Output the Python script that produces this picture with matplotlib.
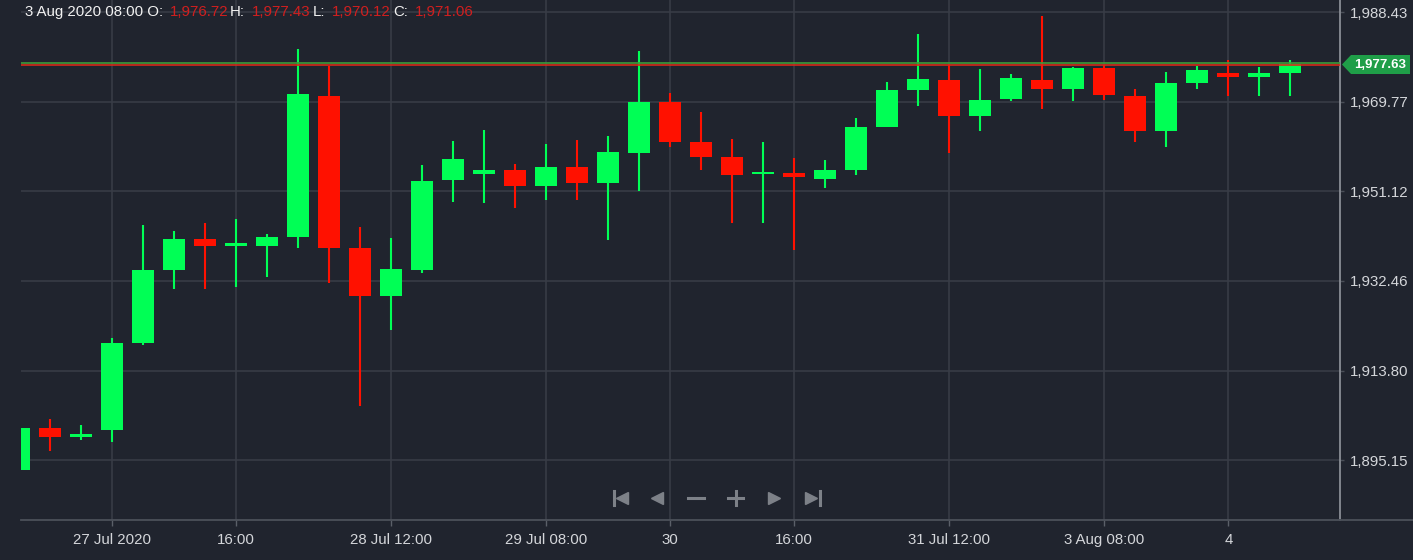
import matplotlib.pyplot as plt
from matplotlib.lines import Line2D
from matplotlib.patches import Polygon

# 4h candles (index = candle slot)
opens = [1893.0, 1901.8, 1900.0, 1901.5, 1919.6, 1934.8, 1941.2, 1939.8, 1939.7, 1941.6,
         1971.0, 1939.4, 1929.4, 1934.7, 1953.5, 1954.7, 1955.5, 1952.2, 1956.2, 1952.8,
         1959.0, 1969.8, 1961.4, 1958.3, 1954.7, 1954.9, 1953.7, 1955.5, 1964.6, 1972.1,
         1974.2, 1966.8, 1970.3, 1974.2, 1972.4, 1976.72, 1971.0, 1963.7, 1973.6, 1975.7,
         1974.9, 1975.7]
highs = [1902.0, 1903.8, 1902.4, 1920.5, 1944.1, 1942.9, 1944.6, 1945.3, 1942.2, 1980.8,
         1977.3, 1943.7, 1941.3, 1956.6, 1961.6, 1963.9, 1956.7, 1960.9, 1961.8, 1962.6,
         1980.4, 1971.6, 1967.6, 1962.1, 1961.4, 1958.0, 1957.6, 1966.4, 1973.9, 1983.9,
         1977.6, 1976.6, 1975.5, 1987.6, 1976.9, 1977.43, 1972.4, 1976.0, 1977.1, 1978.5,
         1977.0, 1978.5]
lows = [1892.8, 1897.1, 1899.4, 1898.9, 1919.1, 1930.8, 1930.8, 1931.2, 1933.2, 1939.4,
        1932.1, 1906.4, 1922.2, 1934.0, 1948.9, 1948.7, 1947.6, 1949.3, 1949.4, 1941.0,
        1951.1, 1960.4, 1955.5, 1944.6, 1944.6, 1938.9, 1951.9, 1954.6, 1964.4, 1968.9,
        1959.0, 1963.7, 1970.0, 1968.2, 1970.0, 1970.12, 1961.4, 1960.3, 1972.4, 1971.0,
        1971.0, 1971.0]
closes = [1901.9, 1900.0, 1900.5, 1919.6, 1934.7, 1941.2, 1939.8, 1940.0, 1941.5, 1971.4,
          1939.4, 1929.4, 1934.9, 1953.3, 1957.8, 1955.5, 1952.2, 1956.2, 1952.8, 1959.2,
          1969.8, 1961.4, 1958.3, 1954.6, 1954.9, 1954.0, 1955.5, 1964.6, 1972.1, 1974.5,
          1966.8, 1970.1, 1974.8, 1972.4, 1976.7, 1971.06, 1963.7, 1973.6, 1976.4, 1974.9,
          1975.7, 1977.63]

tick_pos = [3, 7, 12, 17, 21, 25, 30, 35, 39]
tick_labels = ['27 Jul 2020', '16:00', '28 Jul 12:00', '29 Jul 08:00', '30',
               '16:00', '31 Jul 12:00', '3 Aug 08:00', '4']
y_ticks = [1895.15, 1913.80, 1932.46, 1951.12, 1969.77, 1988.43]
last_price = 1977.63
header_parts = [('3 Aug 2020 08:00 O:', 25, 'w'), ('1,976.72', 170, 'r'), ('H:', 230, 'w'),
                ('1,977.43', 252, 'r'), ('L:', 313, 'w'), ('1,970.12', 332, 'r'),
                ('C:', 393, 'w'), ('1,971.06', 415, 'r')]

W, H = 1413, 560
BG = '#20242e'
GRID = '#393d47'
UP = '#00ff55'
DOWN = '#ff1100'
TXT = '#d4d6da'

plt.rcParams['font.family'] = ['Liberation Sans', 'DejaVu Sans']

fig = plt.figure(figsize=(W / 100, H / 100), dpi=100, facecolor=BG)
ax = fig.add_axes([21 / W, 40 / H, (1340 - 21) / W, 520 / H])
ax.set_facecolor(BG)

def px(x, y):
    return x / W, 1 - y / H

xs = list(range(len(opens)))
for i in xs:
    o, h, l, c = opens[i], highs[i], lows[i], closes[i]
    col = UP if c >= o else DOWN
    ax.vlines(i, l, h, color=col, linewidth=1.5, zorder=2)
    body = max(abs(c - o), 0.45)
    ax.bar(i, body, bottom=min(o, c), width=0.71, color=col, linewidth=0, zorder=3)

ax.set_xlim(0.07, 42.6)
ax.set_ylim(1882.68, 1990.94)

# current price line (green over red)
ax.axhline(last_price + 0.2, color='#3f9a3a', linewidth=1.2, zorder=4)
ax.axhline(last_price - 0.12, color='#d42a1a', linewidth=1.2, zorder=4)

ax.set_xticks(tick_pos)
ax.set_xticklabels(tick_labels)
ax.set_yticks(y_ticks)
ax.set_yticklabels(['{:,.2f}'.format(v) for v in y_ticks])
ax.yaxis.tick_right()
ax.grid(True, color=GRID, linewidth=1.1, zorder=0)
ax.set_axisbelow(True)
ax.tick_params(axis='x', colors=TXT, labelsize=10.8, length=4.5, width=1, pad=5, color='#5b6069')
ax.tick_params(axis='y', colors=TXT, labelsize=10.8, length=3, width=1, pad=4, color='#4a4f58')
for s in ['top', 'left']:
    ax.spines[s].set_visible(False)
ax.spines['right'].set_color('#8a8e96')
ax.spines['right'].set_linewidth(1.3)
ax.spines['bottom'].set_color('#4c515a')
ax.spines['bottom'].set_linewidth(1.3)

# bottom line runs under the price axis too
fig.add_artist(Line2D([1340 / W, 1], [1 - 520 / H] * 2, transform=fig.transFigure,
                      color='#4c515a', linewidth=1.3))

# price tag on the axis
tag = [px(1342, 64.5), px(1351, 55), px(1410, 55), px(1410, 74), px(1351, 74)]
fig.add_artist(Polygon(tag, closed=True, transform=fig.transFigure,
                       facecolor='#1f9e48', edgecolor='none'))
fig.text(*px(1380, 65), '{:,.2f}'.format(last_price), color='white', fontsize=9.5,
         fontweight='bold', ha='center', va='center')

# OHLC header
for s, x, c in header_parts:
    fig.text(*px(x, 12), s, color='#f2f2f2' if c == 'w' else '#d01f1f',
             fontsize=10.8, ha='left', va='center')

# navigation buttons
NAV = '#7d8188'
def mark(x, y, m, ms, mew=1):
    fig.add_artist(Line2D([x / W], [1 - y / H], transform=fig.transFigure, marker=m,
                          markersize=ms, markeredgewidth=mew, color=NAV, linestyle='none'))
def seg(x0, y0, x1, y1):
    fig.add_artist(Line2D([x0 / W, x1 / W], [1 - y0 / H, 1 - y1 / H],
                          transform=fig.transFigure, color=NAV, linewidth=2.2))

seg(613.5, 491, 613.5, 505)
mark(621.5, 498, '<', 9)
mark(657, 498, '<', 9)
seg(688, 498, 704, 498)
seg(728, 498, 743, 498)
seg(735.5, 491, 735.5, 505)
mark(774, 498, '>', 9)
mark(811, 498, '>', 9)
seg(820, 491, 820, 505)

plt.savefig('out.png', dpi=100, facecolor=BG)
